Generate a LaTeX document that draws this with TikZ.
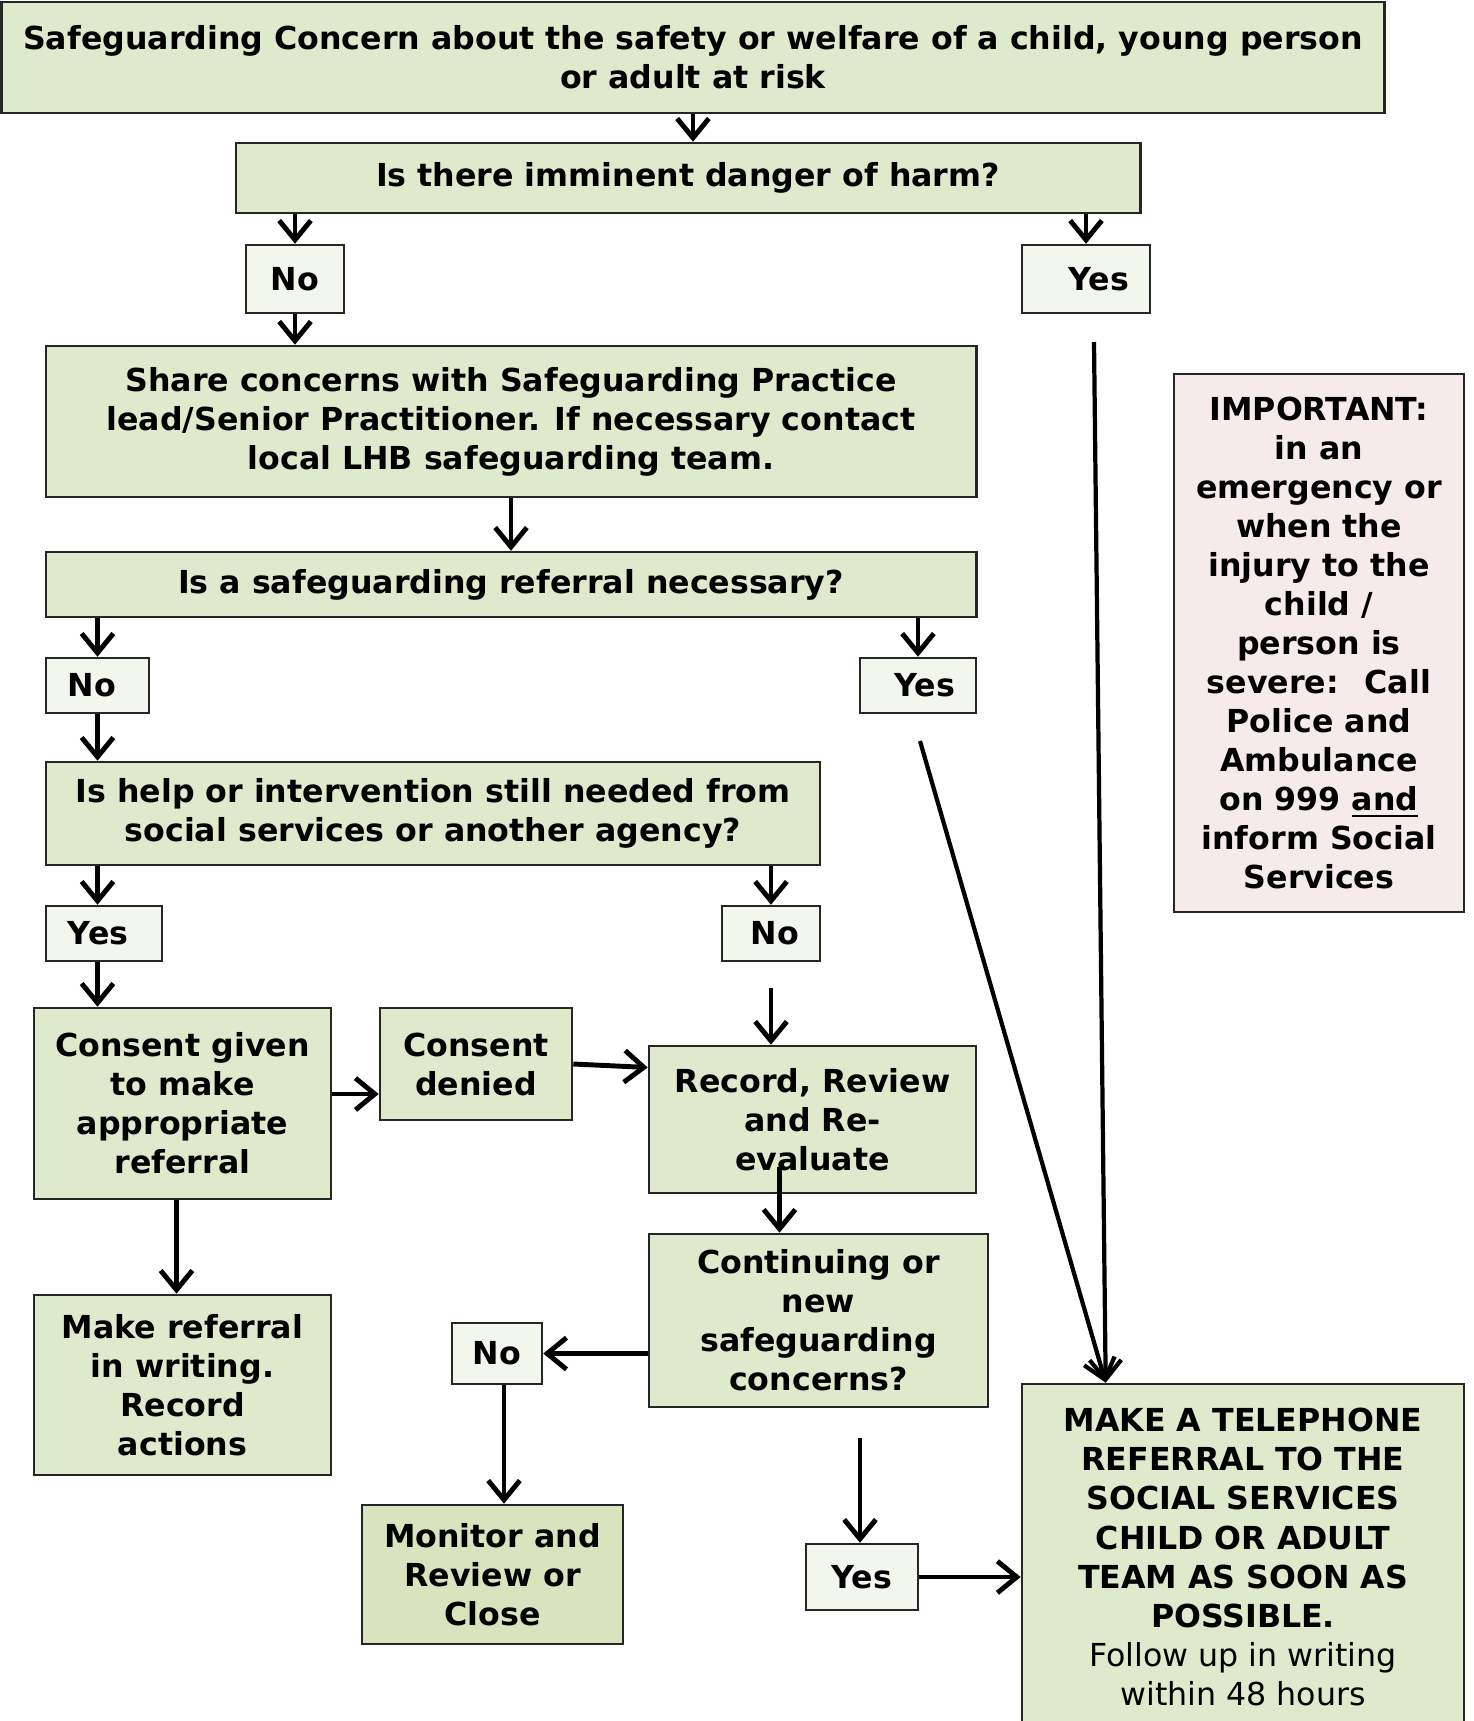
\documentclass[tikz,border=0pt]{standalone}
\usepackage{fontspec}
\setmainfont{DejaVu Sans}
\usepackage{tikz}
\usetikzlibrary{arrows.meta}

\definecolor{boxgreen}{RGB}{223,233,204}
\definecolor{answergreen}{RGB}{243,246,236}
\definecolor{closegreen}{RGB}{215,228,190}
\definecolor{warnpink}{RGB}{245,235,235}

\tikzset{
  box/.style={draw=black!85, line width=0.7pt, fill=boxgreen, align=center,
    inner sep=0pt, font=\fontsize{9.0}{11.1}\selectfont\bfseries},
  answer/.style={box, fill=answergreen},
  arrow/.style={-{Straight Barb[length=5.5pt,width=9pt]}, line width=1.4pt},
  longarrow/.style={arrow, line width=1.2pt}
}

\begin{document}
\begin{tikzpicture}[x=0.01cm,y=-0.01cm]

\useasboundingbox (0,0) rectangle (1474,1721);

\node (Concern) at (693,57.5) [box, minimum width=13.82cm, minimum height=1.11cm]{Safeguarding Concern about the safety or welfare of a child, young person\\or adult at risk};
\node (Danger) at (688,178) [box, minimum width=9.04cm, minimum height=0.70cm]{Is there imminent danger of harm?};
\node (DangerNo) at (295,279) [answer, minimum width=0.98cm, minimum height=0.68cm]{No};
\node (DangerYes) at (1086,279) [answer, minimum width=1.28cm, minimum height=0.68cm, text width=0.86cm, align=right]{Yes};

\node (Share) at (511,421.5) [box, minimum width=9.30cm, minimum height=1.51cm]{Share concerns with Safeguarding Practice\\lead/Senior Practitioner. If necessary contact\\local LHB safeguarding team.};
\node (Referral) at (511,584.5) [box, minimum width=9.30cm, minimum height=0.65cm]{Is a safeguarding referral necessary?};
\node (RefNo) at (97.5,685.5) [answer, minimum width=1.03cm, minimum height=0.55cm, text width=0.59cm, align=left]{No};
\node (RefYes) at (918,685.5) [answer, minimum width=1.16cm, minimum height=0.55cm, text width=0.74cm, align=right]{Yes};

\node (Help) at (433,813.5) [box, minimum width=7.74cm, minimum height=1.03cm]{Is help or intervention still needed from\\social services or another agency?};
\node (HelpYes) at (104,933.5) [answer, minimum width=1.16cm, minimum height=0.55cm, text width=0.72cm, align=left]{Yes};
\node (HelpNo) at (771,933.5) [answer, minimum width=0.98cm, minimum height=0.55cm, text width=0.56cm, align=right]{No};

\node (ConsentGiven) at (182.5,1103.5) [box, minimum width=2.97cm, minimum height=1.91cm]{Consent given\\to make\\appropriate\\referral};
\node (ConsentDenied) at (476,1064) [box, minimum width=1.92cm, minimum height=1.12cm]{Consent\\denied};
\node (RecordReview) at (812.5,1119.5) [box, minimum width=3.27cm, minimum height=1.47cm]{Record, Review\\and Re-\\evaluate};
\node (Continuing) at (818.5,1320.5) [box, minimum width=3.39cm, minimum height=1.73cm]{Continuing or\\new\\safeguarding\\concerns?};
\node (WriteReferral) at (182.5,1385) [box, minimum width=2.97cm, minimum height=1.80cm]{Make referral\\in writing.\\Record\\actions};
\node (ContNo) at (497,1353.5) [answer, minimum width=0.90cm, minimum height=0.61cm]{No};
\node (Monitor) at (492.5,1574.5) [box, fill=closegreen, minimum width=2.61cm, minimum height=1.39cm]{Monitor and\\Review or\\Close};
\node (ContYes) at (862,1577) [answer, minimum width=1.12cm, minimum height=0.66cm]{Yes};

\node (Telephone) at (1243,1557) [box, minimum width=4.42cm, minimum height=3.46cm]{MAKE A TELEPHONE\\REFERRAL TO THE\\SOCIAL SERVICES\\CHILD OR ADULT\\TEAM AS SOON AS\\POSSIBLE.\\\mdseries Follow up in writing\\\mdseries within 48 hours};
\node (Important) at (1319,643) [box, fill=warnpink, minimum width=2.90cm, minimum height=5.38cm]{IMPORTANT:\\in an\\emergency or\\when the\\injury to the\\child /\\person is\\severe:~ Call\\Police and\\Ambulance\\on 999 \underline{and}\\inform Social\\Services};

% loose ends
\coordinate (DangerYesTail) at (1094,342);
\coordinate (RefYesTail) at (920,741);
\coordinate (HelpNoTail) at (771,988);
\coordinate (ContYesTail) at (860,1438);

\draw [arrow] (Concern) -- (Concern |- Danger.north);
\draw [arrow] (DangerNo |- Danger.south) -- (DangerNo);
\draw [arrow] (DangerYes |- Danger.south) -- (DangerYes);
\draw [arrow] (DangerNo) -- (DangerNo |- Share.north);
\draw [longarrow] (DangerYesTail) -- ([xshift=0.85cm]Telephone.north west);

\draw [arrow] (Share) -- (Share |- Referral.north);
\draw [arrow] (RefNo |- Referral.south) -- (RefNo);
\draw [arrow] (RefYes |- Referral.south) -- (RefYes);
\draw [arrow] (RefNo) -- (RefNo |- Help.north);
\draw [longarrow] (RefYesTail) -- ([xshift=0.85cm]Telephone.north west);

\draw [arrow] (RefNo |- Help.south) -- (RefNo |- HelpYes.north);
\draw [arrow] (HelpNo |- Help.south) -- (HelpNo);
\draw [arrow] (RefNo |- HelpYes.south) -- (RefNo |- ConsentGiven.north);
\draw [arrow] (HelpNoTail) -- (HelpNoTail |- RecordReview.north);

\draw [arrow] ([yshift=-0.30cm]ConsentDenied.west -| ConsentGiven.east) -- ([yshift=-0.30cm]ConsentDenied.west);
\draw [arrow] (ConsentDenied.east) -- ([yshift=0.52cm]RecordReview.west);
\draw [arrow] ([xshift=-0.33cm,yshift=0.27cm]RecordReview.south) -- ([xshift=-0.33cm]RecordReview.south |- Continuing.north);
\draw [arrow] ([xshift=-0.06cm]ConsentGiven.south) -- ([xshift=-0.06cm]WriteReferral.north);

\draw [arrow] (ContNo -| Continuing.west) -- (ContNo);
\draw [arrow] ([xshift=0.07cm]ContNo.south) -- ([xshift=0.07cm]ContNo.south |- Monitor.north);
\draw [arrow] (ContYesTail) -- (ContYesTail |- ContYes.north);
\draw [arrow] (ContYes) -- (ContYes -| Telephone.west);

\end{tikzpicture}
\end{document}
